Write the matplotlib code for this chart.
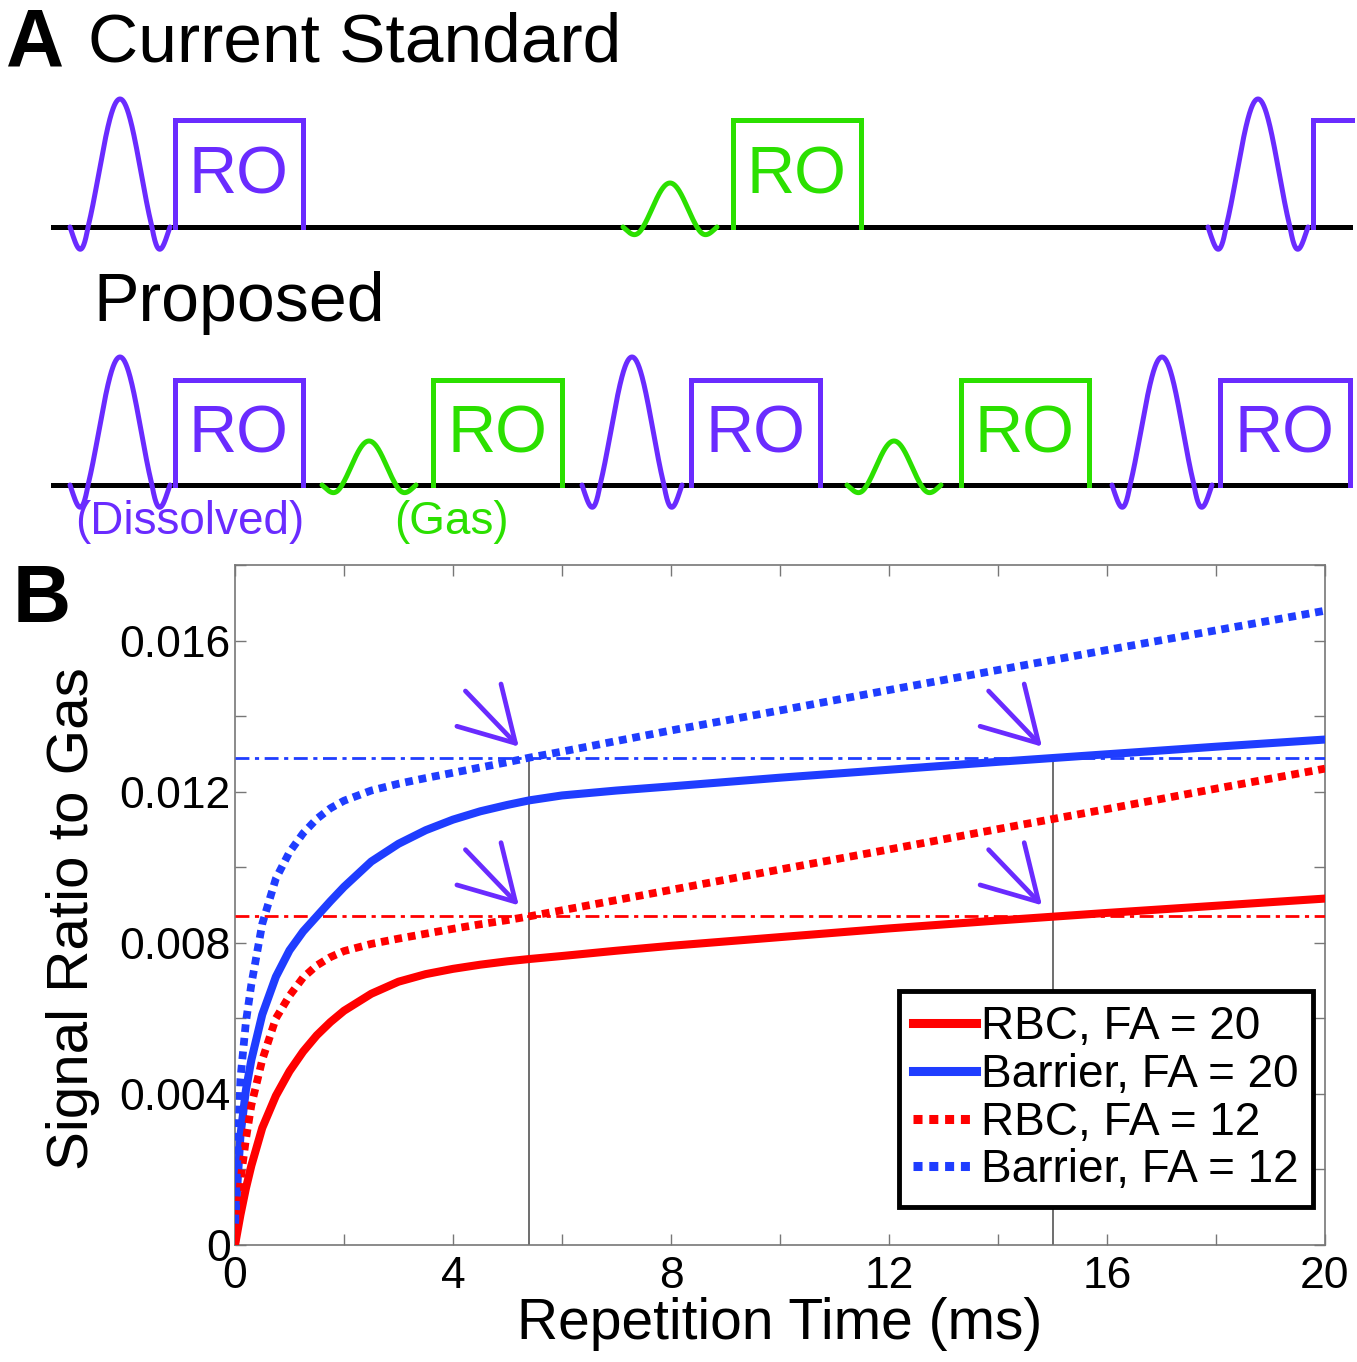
import numpy as np
import matplotlib.pyplot as plt
from matplotlib.ticker import MultipleLocator

plt.rcParams['font.family'] = ['Liberation Sans', 'DejaVu Sans']

# -----------------------------------------------------------------------------
# data
# -----------------------------------------------------------------------------

tr_ms = [0, 0.1, 0.2, 0.3, 0.5, 0.75, 1.0, 1.25, 1.5, 1.75, 2.0, 2.5, 3.0, 3.5,
         4.0, 4.5, 5.0, 5.4, 6, 7, 8, 10, 12, 14, 16, 18, 20]

rbc_fa20 = [0.0, 0.0008, 0.0015, 0.0021, 0.0031, 0.00395, 0.0046, 0.00512, 0.00555,
            0.0059, 0.0062, 0.00665, 0.00697, 0.00717, 0.00731, 0.00742, 0.00751,
            0.00757, 0.00765, 0.00779, 0.00792, 0.00815, 0.00838, 0.00859, 0.00879,
            0.00898, 0.00917]

barrier_fa20 = [0.0006, 0.0029, 0.0041, 0.0049, 0.0061, 0.0071, 0.0078, 0.0083,
                0.00870, 0.0091, 0.00948, 0.01015, 0.01062, 0.01098, 0.01126, 0.01148,
                0.01165, 0.01177, 0.0119, 0.01203, 0.01214, 0.01237, 0.01258,
                0.01279, 0.01299, 0.01319, 0.01338]

rbc_fa12 = [0.0, 0.0017, 0.0028, 0.0037, 0.0049, 0.0060, 0.0066, 0.00708, 0.00740,
            0.00762, 0.00778, 0.00797, 0.00811, 0.00824, 0.00837, 0.00849, 0.00860,
            0.00870, 0.00886, 0.00913, 0.00940, 0.00994, 0.01047, 0.01101, 0.01154,
            0.01208, 0.01261]

barrier_fa12 = [0.0006, 0.0044, 0.0059, 0.0069, 0.0085, 0.0097, 0.0104, 0.0109,
                0.01128, 0.01156, 0.01176, 0.01203, 0.01221, 0.01236, 0.01250,
                0.01264, 0.01278, 0.01290, 0.01306, 0.01334, 0.01362, 0.01415,
                0.01469, 0.01522, 0.01575, 0.01627, 0.01679]

match_levels = [0.0129, 0.0087]        # barrier, rbc reference levels
match_tr = [5.4, 15.0]                 # matching repetition times (ms)

ytick_vals = [0, 0.004, 0.008, 0.012, 0.016]
ytick_labels = ['0', '0.004', '0.008', '0.012', '0.016']

# -----------------------------------------------------------------------------
# style
# -----------------------------------------------------------------------------

RED = '#FF0000'
BLUE = '#1F3DFF'
PURPLE = '#6A2BFF'
GREEN = '#2BE000'
GRAY = '#777777'

W, H = 1357, 1362
fig = plt.figure(figsize=(W / 100, H / 100), dpi=100)

# -----------------------------------------------------------------------------
# panel A: pulse sequence schematic (pixel coordinates)
# -----------------------------------------------------------------------------

sk = fig.add_axes([0, 0, 1, 1])
sk.set_xlim(0, W)
sk.set_ylim(H, 0)
sk.axis('off')

LW = 3.6


def rf_pulse(x0, base, kind):
    # sinc-like shape, main lobe wide, side lobes squeezed towards the ends
    t = np.linspace(-2, 2, 400)
    s = np.sinc(t)
    s = np.where(s < 0, 0.8 * s, s)
    if kind == 'dissolved':
        amp, main, side, col = 128, 32, 18, PURPLE
    else:
        amp, main, side, col = 44, 27, 20, GREEN
    a = np.abs(t)
    x = np.sign(t) * np.where(a <= 1, main * a, main + side * (a - 1))
    sk.plot(x0 + x, base - amp * s, color=col, lw=LW,
            solid_capstyle='round', zorder=3)


def readout(left, right, top, base, col):
    if right is None:
        sk.plot([left, left, 1352], [base, top, top], color=col, lw=LW,
                solid_joinstyle='miter', zorder=3)
        return
    sk.plot([left, left, right, right], [base, top, top, base], color=col,
            lw=LW, solid_joinstyle='miter', zorder=3)
    sk.text((left + right) / 2, (top + base) / 2 + 3, 'RO', color=col,
            fontsize=48, ha='center', va='center')


# current standard
base1 = 227
sk.plot([53, 1350], [base1, base1], color='black', lw=LW, zorder=2)
rf_pulse(120, base1, 'dissolved')
readout(175, 303, 120, base1, PURPLE)
rf_pulse(670, base1, 'gas')
readout(733, 861, 120, base1, GREEN)
rf_pulse(1258, base1, 'dissolved')
readout(1313, None, 120, base1, PURPLE)

# proposed
base2 = 485
sk.plot([53, 1350], [base2, base2], color='black', lw=LW, zorder=2)
for xc, (l, r), kind in zip([120, 369, 632, 894, 1162],
                            [(175, 303), (433, 562), (691, 820), (961, 1089), (1220, 1350)],
                            ['dissolved', 'gas', 'dissolved', 'gas', 'dissolved']):
    rf_pulse(xc, base2, kind)
    readout(l, r, 380, base2, PURPLE if kind == 'dissolved' else GREEN)

sk.text(6, 66, 'A', fontsize=58, fontweight='bold', va='baseline', ha='left')
sk.text(88, 61, 'Current Standard', fontsize=50, va='baseline', ha='left')
sk.text(93, 321, 'Proposed', fontsize=49, va='baseline', ha='left')
sk.text(190, 522, '(Dissolved)', fontsize=33, color=PURPLE, ha='center', va='center')
sk.text(451, 522, '(Gas)', fontsize=33, color=GREEN, ha='center', va='center')
sk.text(13, 622, 'B', fontsize=58, fontweight='bold', va='baseline', ha='left')

# -----------------------------------------------------------------------------
# panel B: signal ratio vs repetition time
# -----------------------------------------------------------------------------

ax = fig.add_axes([235 / W, 1 - 1245 / H, 1090 / W, 680 / H])

ax.plot(tr_ms, rbc_fa20, color=RED, lw=5.8, label='RBC, FA = 20', zorder=4)
ax.plot(tr_ms, barrier_fa20, color=BLUE, lw=5.8, label='Barrier, FA = 20', zorder=4)
ax.plot(tr_ms, rbc_fa12, color=RED, lw=5.6, dashes=(1, 0.75),
        dash_capstyle='butt', label='RBC, FA = 12', zorder=4)
ax.plot(tr_ms, barrier_fa12, color=BLUE, lw=5.6, dashes=(1, 0.75),
        dash_capstyle='butt', label='Barrier, FA = 12', zorder=4)

# reference levels
for lvl, col in zip(match_levels, [BLUE, RED]):
    ax.axhline(lvl, color=col, lw=2, dashes=(5, 2, 1.5, 2), zorder=3)

# matching repetition times
ax.vlines(match_tr, 0, match_levels[0], color='#555555', lw=1.2, zorder=2)

# arrows pointing at the crossings
for lvl in match_levels:
    for tr in match_tr:
        ax.annotate('', xy=(tr, lvl), xytext=(-46, 48), textcoords='offset points',
                    arrowprops=dict(arrowstyle='->,head_length=0.95,head_width=0.55',
                                    mutation_scale=40, color=PURPLE, lw=3.4,
                                    shrinkA=0, shrinkB=11),
                    zorder=5)

ax.set_xlim(0, 20)
ax.set_ylim(0, 0.018)
ax.xaxis.set_major_locator(MultipleLocator(4))
ax.xaxis.set_minor_locator(MultipleLocator(2))
ax.set_yticks(ytick_vals)
ax.set_yticklabels(ytick_labels)
ax.yaxis.set_minor_locator(MultipleLocator(0.002))

ax.tick_params(which='both', direction='in', length=8, width=1, color=GRAY,
               top=True, right=True, labelsize=32)
ax.tick_params(axis='y', pad=3)
ax.tick_params(axis='x', pad=8)
for s in ax.spines.values():
    s.set_color(GRAY)
    s.set_linewidth(1.2)

ax.set_xlabel('Repetition Time (ms)', fontsize=41)
ax.set_ylabel('Signal Ratio to Gas', fontsize=42)
ax.xaxis.set_label_coords(0.5, -0.077)
ax.yaxis.set_label_coords(-0.124, 0.48)

leg = ax.legend(loc='lower right', bbox_to_anchor=(0.989, 0.056), fontsize=33,
                frameon=True, fancybox=False, edgecolor='black', framealpha=1,
                handlelength=1.37, handletextpad=0.1, labelspacing=0.08,
                borderpad=0.32, borderaxespad=0)
leg.get_frame().set_linewidth(3.5)
for ln in leg.get_lines():
    ln.set_linewidth(6.5)

fig.savefig('out.png', dpi=100)
plt.close(fig)
